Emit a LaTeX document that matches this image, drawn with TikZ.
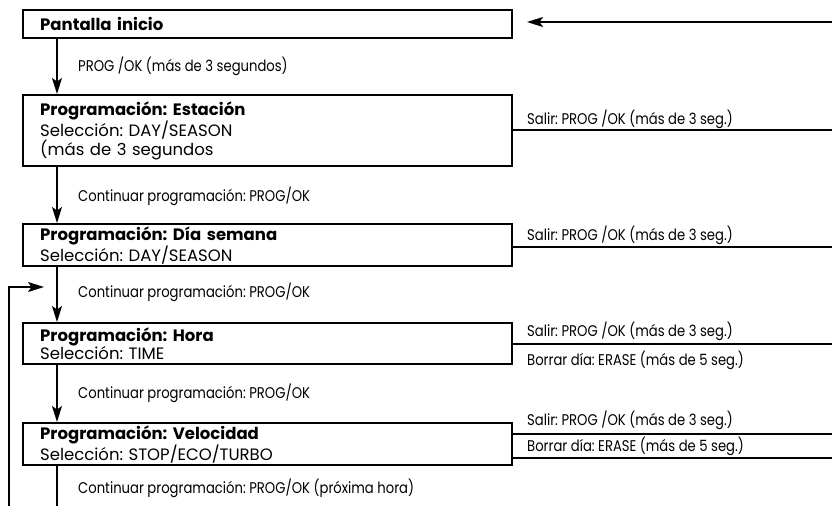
\documentclass[tikz,border=0pt]{standalone}
\usepackage{fontspec}
\setmainfont{Poppins}
\newfontfamily\hdfont{Poppins}
\newfontfamily\condfont{Poppins}[FakeStretch=0.85]
\frenchspacing
\usetikzlibrary{arrows.meta,positioning}

\newcommand{\hd}[1]{{\hdfont\bfseries #1}}

\tikzset{
  box/.style={draw, line width=2.4pt, anchor=north west, minimum width=489pt,
    inner xsep=17pt, inner ysep=0pt, text width=455pt, align=left,
    font=\fontsize{16.5}{17}\selectfont},
  lbl/.style={anchor=west, inner sep=0pt, font=\condfont\fontsize{15.5}{16}\selectfont},
  arr/.style={line width=1.4pt, -{Stealth[length=16pt,width=10pt,inset=3.5pt]}},
  exit/.style={line width=1.2pt}
}

\begin{document}
\begin{tikzpicture}[x=1pt, y=-1pt]
    \useasboundingbox (0,0) rectangle (832,506) ;

    % pantallas
    \node[box, minimum height=28pt] (ini) at (22,9) {\hd{Pantalla inicio}} ;
    \node[box, minimum height=71pt] (est) at (22,94) {\hd{Programación: Estación}\\Selección: DAY/SEASON\\(más de 3 segundos} ;
    \node[box, minimum height=42pt] (dia) at (22,223) {\hd{Programación: Día semana}\\Selección: DAY/SEASON} ;
    \node[box, minimum height=41pt] (hora) at (22,322) {\hd{Programación: Hora}\\Selección: TIME} ;
    \node[box, minimum height=42pt] (vel) at (22,422) {\hd{Programación: Velocidad}\\Selección: STOP/ECO/TURBO} ;

    % continuar
    \draw [arr] ([xshift=35pt]ini.south west) -- ([xshift=35pt]est.north west) ;
    \node[lbl] (c1) at (78,66) {PROG /OK (más de 3 segundos)} ;
    \draw [arr] ([xshift=35pt]est.south west) -- ([xshift=35pt]dia.north west) ;
    \node[lbl] (c2) at (78,196) {Continuar programación: PROG/OK} ;
    \draw [arr] ([xshift=35pt]dia.south west) -- ([xshift=35pt]hora.north west) ;
    \node[lbl] (c3) at (78,292) {Continuar programación: PROG/OK} ;
    \draw [arr] ([xshift=35pt]hora.south west) -- ([xshift=35pt]vel.north west) ;
    \node[lbl] (c4) at (78,393) {Continuar programación: PROG/OK} ;
    \coordinate (vend) at (57,506) ;
    \draw [line width=1.4pt] ([xshift=35pt]vel.south west) -- (vend) ;
    \node[lbl] (c5) at (78,488) {Continuar programación: PROG/OK (próxima hora)} ;

    % vuelta
    \coordinate (lp0) at (9,506) ;
    \coordinate (lp1) at (44,287) ;
    \draw [arr] (lp0) |- (lp1) ;
    \coordinate (back) at (832,22) ;
    \coordinate (backtip) at (527,22) ;
    \draw [arr] (back) -- (backtip) ;

    % salir / borrar
    \coordinate (s2) at (832,130) ;
    \draw [exit] (s2 -| est.east) -- (s2) ;
    \node[lbl] (t2) at (527,119) {Salir: PROG /OK (más de 3 seg.)} ;
    \coordinate (s3) at (832,247) ;
    \draw [exit] (s3 -| dia.east) -- (s3) ;
    \node[lbl] (t3) at (527,235) {Salir: PROG /OK (más de 3 seg.)} ;
    \coordinate (s4) at (832,344) ;
    \draw [exit] (s4 -| hora.east) -- (s4) ;
    \node[lbl] (t4) at (527,331) {Salir: PROG /OK (más de 3 seg.)} ;
    \node[lbl] (e4) at (527,360) {Borrar día: ERASE (más de 5 seg.)} ;
    \coordinate (s5) at (832,434) ;
    \draw [exit] (s5 -| vel.east) -- (s5) ;
    \node[lbl] (t5) at (527,420) {Salir: PROG /OK (más de 3 seg.)} ;
    \coordinate (e5) at (832,458) ;
    \draw [exit] (e5 -| vel.east) -- (e5) ;
    \node[lbl] (b5) at (527,446) {Borrar día: ERASE (más de 5 seg.)} ;
\end{tikzpicture}
\end{document}
